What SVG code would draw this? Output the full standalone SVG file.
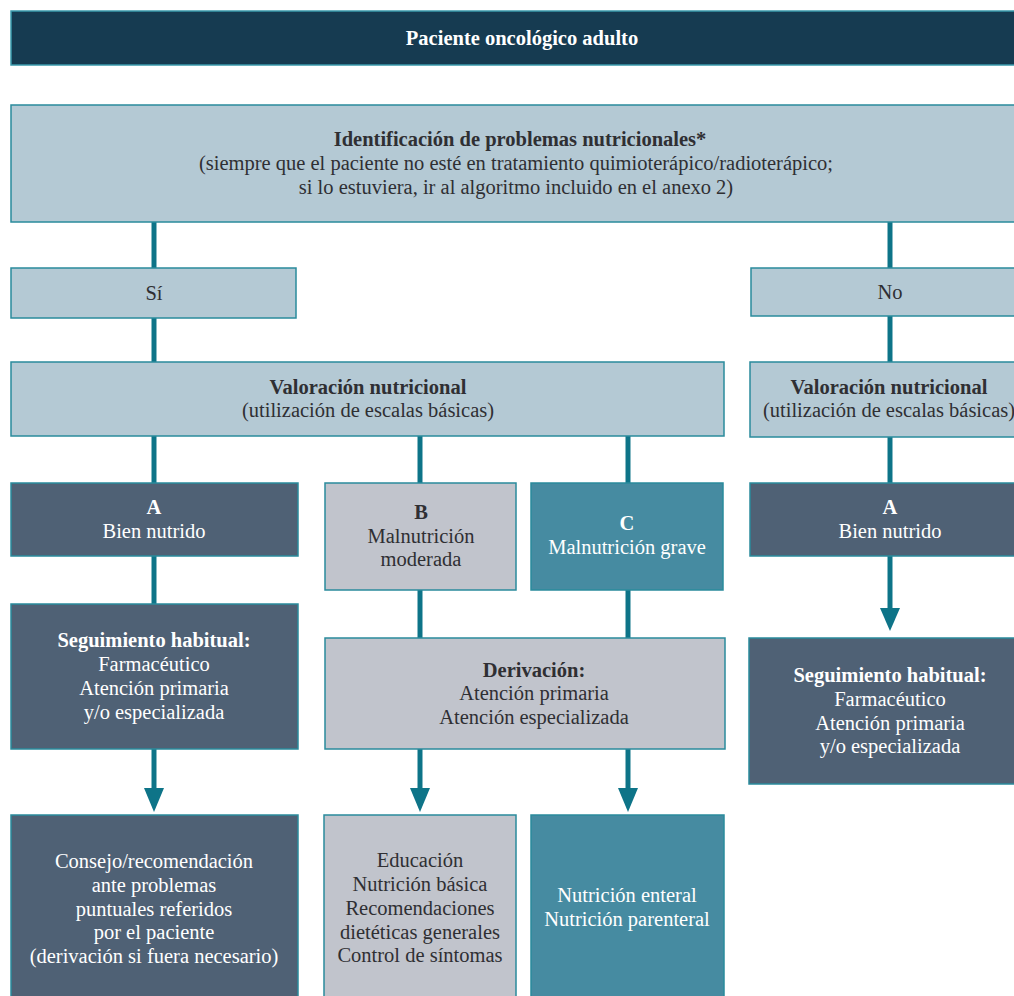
<svg xmlns="http://www.w3.org/2000/svg" width="1014" height="996" viewBox="0 0 1014 996">
<defs>
<style>
.t{font-family:"Liberation Serif","DejaVu Serif",serif;font-size:20.5px;text-anchor:middle;}
.b{font-weight:bold;}
.w{fill:#ffffff;}
.d{fill:#2f2f33;}
.top{fill:#163b51;stroke:#3a9aac;stroke-width:1.5;}
.lb{fill:#b4c9d4;stroke:#2a8b9c;stroke-width:1.5;}
.sl{fill:#4f6175;stroke:#2a8b9c;stroke-width:1.5;}
.gr{fill:#c1c4cc;stroke:#2a8b9c;stroke-width:1.5;}
.tl{fill:#468ba1;stroke:#2a8b9c;stroke-width:1.5;}
.ln{stroke:#0e7488;stroke-width:5;fill:none;}
.hd{fill:#0e7488;}
</style>
</defs>
<rect width="1014" height="996" fill="#ffffff"/>
<g id="connectors">
<line class="ln" x1="154" y1="222" x2="154" y2="268"/>
<line class="ln" x1="890" y1="222" x2="890" y2="268"/>
<line class="ln" x1="154" y1="318" x2="154" y2="362"/>
<line class="ln" x1="890" y1="316" x2="890" y2="362"/>
<line class="ln" x1="154" y1="436" x2="154" y2="483"/>
<line class="ln" x1="420" y1="436" x2="420" y2="483"/>
<line class="ln" x1="628" y1="436" x2="628" y2="483"/>
<line class="ln" x1="890" y1="437" x2="890" y2="483"/>
<line class="ln" x1="154" y1="556" x2="154" y2="604"/>
<line class="ln" x1="420" y1="590" x2="420" y2="638"/>
<line class="ln" x1="628" y1="590" x2="628" y2="638"/>
<line class="ln" x1="890" y1="556" x2="890" y2="612"/>
<polygon class="hd" points="880,608 900,608 890,631"/>
<line class="ln" x1="154" y1="749" x2="154" y2="792"/>
<polygon class="hd" points="144,788 164,788 154,812"/>
<line class="ln" x1="420" y1="749" x2="420" y2="792"/>
<polygon class="hd" points="410,788 430,788 420,812"/>
<line class="ln" x1="628" y1="749" x2="628" y2="792"/>
<polygon class="hd" points="618,788 638,788 628,812"/>
</g>
<g id="n_paciente">
<rect class="top" x="11" y="11" width="1010" height="54"/>
<text class="t b w" x="522" y="45">Paciente oncológico adulto</text>
</g>
<g id="n_identificacion">
<rect class="lb" x="11" y="105" width="1010" height="117"/>
<text class="t b d" x="520" y="146">Identificación de problemas nutricionales*</text>
<text class="t d" x="516" y="170">(siempre que el paciente no esté en tratamiento quimioterápico/radioterápico;</text>
<text class="t d" x="516" y="194">si lo estuviera, ir al algoritmo incluido en el anexo 2)</text>
</g>
<g id="n_si">
<rect class="lb" x="11" y="268" width="285" height="50"/>
<text class="t d" x="154" y="300">Sí</text>
</g>
<g id="n_no">
<rect class="lb" x="751" y="268" width="270" height="48"/>
<text class="t d" x="890" y="299">No</text>
</g>
<g id="n_valoracion_si">
<rect class="lb" x="11" y="362" width="713" height="74"/>
<text class="t b d" x="368" y="394">Valoración nutricional</text>
<text class="t d" x="368" y="417">(utilización de escalas básicas)</text>
</g>
<g id="n_valoracion_no">
<rect class="lb" x="750" y="362" width="271" height="75"/>
<text class="t b d" x="889" y="394">Valoración nutricional</text>
<text class="t d" x="889" y="417">(utilización de escalas básicas)</text>
</g>
<g id="n_a_si">
<rect class="sl" x="11" y="483" width="287" height="73"/>
<text class="t b w" x="154" y="514">A</text>
<text class="t w" x="154" y="538">Bien nutrido</text>
</g>
<g id="n_b">
<rect class="gr" x="325" y="483" width="191" height="107"/>
<text class="t b d" x="421" y="519">B</text>
<text class="t d" x="421" y="543">Malnutrición</text>
<text class="t d" x="421" y="566">moderada</text>
</g>
<g id="n_c">
<rect class="tl" x="531" y="483" width="192" height="107"/>
<text class="t b w" x="627" y="530">C</text>
<text class="t w" x="627" y="554">Malnutrición grave</text>
</g>
<g id="n_a_no">
<rect class="sl" x="750" y="483" width="271" height="73"/>
<text class="t b w" x="890" y="514">A</text>
<text class="t w" x="890" y="538">Bien nutrido</text>
</g>
<g id="n_seguimiento_si">
<rect class="sl" x="11" y="604" width="287" height="145"/>
<text class="t b w" x="154" y="647">Seguimiento habitual:</text>
<text class="t w" x="154" y="671">Farmacéutico</text>
<text class="t w" x="154" y="695">Atención primaria</text>
<text class="t w" x="154" y="719">y/o especializada</text>
</g>
<g id="n_derivacion">
<rect class="gr" x="325" y="638" width="400" height="111"/>
<text class="t b d" x="534" y="677">Derivación:</text>
<text class="t d" x="534" y="700">Atención primaria</text>
<text class="t d" x="534" y="724">Atención especializada</text>
</g>
<g id="n_seguimiento_no">
<rect class="sl" x="749" y="638" width="272" height="146"/>
<text class="t b w" x="890" y="682">Seguimiento habitual:</text>
<text class="t w" x="890" y="706">Farmacéutico</text>
<text class="t w" x="890" y="730">Atención primaria</text>
<text class="t w" x="890" y="753">y/o especializada</text>
</g>
<g id="n_consejo">
<rect class="sl" x="11" y="815" width="287" height="190"/>
<text class="t w" x="154" y="868">Consejo/recomendación</text>
<text class="t w" x="154" y="892">ante problemas</text>
<text class="t w" x="154" y="916">puntuales referidos</text>
<text class="t w" x="154" y="939">por el paciente</text>
<text class="t w" x="154" y="963">(derivación si fuera necesario)</text>
</g>
<g id="n_educacion">
<rect class="gr" x="324" y="815" width="192" height="190"/>
<text class="t d" x="420" y="867">Educación</text>
<text class="t d" x="420" y="891">Nutrición básica</text>
<text class="t d" x="420" y="915">Recomendaciones</text>
<text class="t d" x="420" y="939">dietéticas generales</text>
<text class="t d" x="420" y="962">Control de síntomas</text>
</g>
<g id="n_nutricion">
<rect class="tl" x="531" y="815" width="193" height="190"/>
<text class="t w" x="627" y="902">Nutrición enteral</text>
<text class="t w" x="627" y="926">Nutrición parenteral</text>
</g>
</svg>
